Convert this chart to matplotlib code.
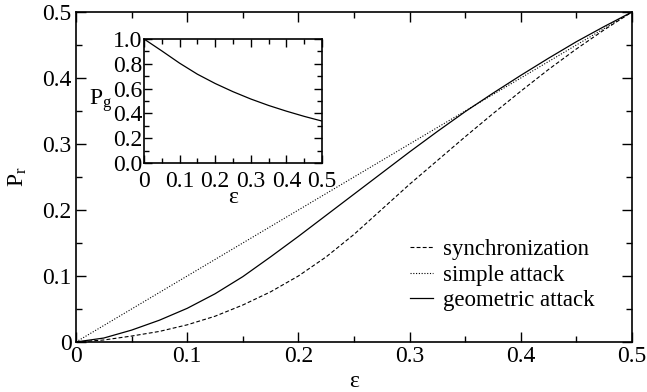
import numpy as np
import matplotlib
matplotlib.use('Agg')
import matplotlib.pyplot as plt
from matplotlib.ticker import MultipleLocator, FuncFormatter

plt.rcParams['font.family'] = ['Liberation Serif', 'DejaVu Serif']
plt.rcParams['mathtext.fontset'] = 'custom'
plt.rcParams['mathtext.rm'] = 'Liberation Serif'
plt.rcParams['mathtext.it'] = 'Liberation Serif'

# datos
eps = [0, 0.025, 0.05, 0.075, 0.1, 0.125, 0.15, 0.175, 0.2, 0.225, 0.25,
       0.275, 0.3, 0.325, 0.35, 0.375, 0.4, 0.425, 0.45, 0.475, 0.5]
sincronizacion = [0, 0.003, 0.009, 0.016, 0.026, 0.039, 0.056, 0.076, 0.100, 0.129, 0.163,
                  0.201, 0.239, 0.275, 0.311, 0.346, 0.380, 0.413, 0.444, 0.473, 0.5]
ataque_simple = [0, 0.025, 0.05, 0.075, 0.1, 0.125, 0.15, 0.175, 0.2, 0.225, 0.25,
                 0.275, 0.3, 0.325, 0.35, 0.375, 0.4, 0.425, 0.45, 0.475, 0.5]
ataque_geometrico = [0, 0.006, 0.018, 0.033, 0.051, 0.073, 0.099, 0.129, 0.160, 0.192, 0.224,
                     0.256, 0.288, 0.319, 0.349, 0.377, 0.404, 0.430, 0.455, 0.478, 0.5]

eps_g = [0, 0.05, 0.1, 0.15, 0.2, 0.25, 0.3, 0.35, 0.4, 0.45, 0.5]
pg = [1.0, 0.904, 0.805, 0.716, 0.641, 0.575, 0.516, 0.464, 0.418, 0.376, 0.338]

fs = 17

fig = plt.figure(figsize=(6.47, 3.92), dpi=100)
ax = fig.add_axes([0.1175, 0.1276, 0.8593, 0.8418])

ax.plot(eps, sincronizacion, color='black', lw=0.8, dashes=(3.5, 2), label='synchronization')
ax.plot(eps, ataque_simple, color='black', lw=0.8, dashes=(1, 1.5), label='simple attack')
ax.plot(eps, ataque_geometrico, color='black', lw=0.9, label='geometric attack')

ax.set_xlim(0, 0.5)
ax.set_ylim(0, 0.5)
ax.xaxis.set_major_locator(MultipleLocator(0.1))
ax.xaxis.set_minor_locator(MultipleLocator(0.05))
ax.yaxis.set_major_locator(MultipleLocator(0.1))
ax.yaxis.set_minor_locator(MultipleLocator(0.05))
fmt = FuncFormatter(lambda v, p: '0' if abs(v) < 1e-9 else f'{v:.1f}')
ax.xaxis.set_major_formatter(fmt)
ax.yaxis.set_major_formatter(fmt)
ax.tick_params(which='both', direction='in', top=True, right=True, labelsize=fs, width=1)
ax.tick_params(which='major', length=7, pad=3)
ax.tick_params(which='minor', length=4)
for s in ax.spines.values():
    s.set_linewidth(1.2)
ax.set_xlabel('ε', fontsize=fs, labelpad=3)
ax.set_ylabel(r'$\mathrm{P_r}$', fontsize=fs, labelpad=10)

ax.legend(loc='upper left', bbox_to_anchor=(0.6, 0.312), frameon=False, fontsize=16.5,
          handlelength=1.0, handletextpad=0.45, labelspacing=0.2, borderpad=0, borderaxespad=0)

# inset
axi = fig.add_axes([0.2226, 0.5842, 0.2751, 0.3163])
axi.plot(eps_g, pg, color='black', lw=0.9)
axi.set_xlim(0, 0.5)
axi.set_ylim(0, 1.0)
axi.xaxis.set_major_locator(MultipleLocator(0.1))
axi.xaxis.set_minor_locator(MultipleLocator(0.05))
axi.yaxis.set_major_locator(MultipleLocator(0.2))
axi.yaxis.set_minor_locator(MultipleLocator(0.1))
axi.xaxis.set_major_formatter(fmt)
axi.yaxis.set_major_formatter(FuncFormatter(lambda v, p: f'{v:.1f}'))
axi.tick_params(which='both', direction='in', top=True, right=True, labelsize=fs, width=1)
axi.tick_params(which='major', length=6)
axi.tick_params(axis='y', which='major', pad=1)
axi.tick_params(axis='x', which='major', pad=6)
axi.tick_params(which='minor', length=3.5)
for s in axi.spines.values():
    s.set_linewidth(1.2)
axi.set_xlabel('ε', fontsize=fs, labelpad=-4)
axi.set_ylabel(r'$\mathrm{P_g}$', fontsize=fs, rotation=0, labelpad=9, va='center')

fig.savefig('out.png', dpi=100)
